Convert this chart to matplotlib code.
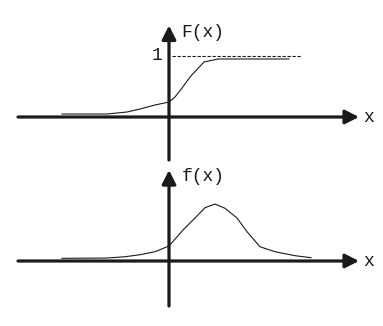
import matplotlib
matplotlib.use("Agg")
import matplotlib.pyplot as plt
import numpy as np

# Curve samples (x in arbitrary units, F and f in units of the "1" level)
x_cdf = [-2.14, -1.24, -0.84, -0.58, -0.28, 0.0, 0.12, 0.26, 0.42, 0.70, 0.98, 2.40]
F_vals = [0.049, 0.049, 0.082, 0.131, 0.197, 0.246, 0.328, 0.475, 0.656, 0.902, 0.951, 0.951]

x_pdf = [-2.14, -1.24, -0.88, -0.58, -0.28, 0.0, 0.28, 0.52, 0.72, 0.92, 1.12, 1.36,
         1.56, 1.82, 2.12, 2.52, 2.84]
f_vals = [0.044, 0.049, 0.070, 0.103, 0.152, 0.246, 0.508, 0.705, 0.874, 0.934, 0.864,
          0.705, 0.480, 0.234, 0.152, 0.087, 0.054]

one_level = 1.0
dash_x = [0.06, 2.64]

W, H = 383, 326
fig = plt.figure(figsize=(W / 100, H / 100), dpi=100)
fig.patch.set_facecolor("white")

font = "Liberation Mono"
ink = "#1a1a1a"

def draw_axes(ax, y_bottom, y_top):
    style = "-|>,head_length=0.75,head_width=0.38"
    # horizontal axis with arrow
    ax.annotate("", xy=(3.80, 0), xytext=(-3.02, 0),
                arrowprops=dict(arrowstyle=style, lw=2.3, color=ink,
                                mutation_scale=11, shrinkA=0, shrinkB=0))
    # vertical axis with arrow
    ax.annotate("", xy=(0, y_top), xytext=(0, y_bottom),
                arrowprops=dict(arrowstyle=style, lw=2.3, color=ink,
                                mutation_scale=11, shrinkA=0, shrinkB=0))
    ax.text(3.88, 0, "x", fontsize=13, family=font, color=ink,
            ha="left", va="center")

# top panel: pixel rows 0..160
ax1 = fig.add_axes([0, 1 - 160 / H, 1, 160 / H])
ax1.set_xlim(-169 / 50, (W - 169) / 50)
ax1.set_ylim((117 - 160) / 61, 117 / 61)
ax1.axis("off")
draw_axes(ax1, -0.705, 1.50)
ax1.plot(x_cdf, F_vals, color=ink, lw=0.8)
ax1.plot(dash_x, [one_level, one_level], color=ink, lw=0.8, ls=(0, (3, 1.5)))
ax1.text(0.24, 1.39, "F(x)", fontsize=13, family=font, color=ink,
         ha="left", va="center")
ax1.text(-0.24, one_level, "1", fontsize=13, family=font, color=ink,
         ha="center", va="center")

# bottom panel: pixel rows 160..326
ax2 = fig.add_axes([0, 0, 1, 166 / H])
ax2.set_xlim(-169 / 50, (W - 169) / 50)
ax2.set_ylim((261 - 326) / 61, (261 - 160) / 61)
ax2.axis("off")
draw_axes(ax2, -0.738, 1.49)
ax2.plot(x_pdf, f_vals, color=ink, lw=0.8)
ax2.text(0.26, 1.39, "f(x)", fontsize=13, family=font, color=ink,
         ha="left", va="center")

fig.savefig("out.png", dpi=100, facecolor="white")
